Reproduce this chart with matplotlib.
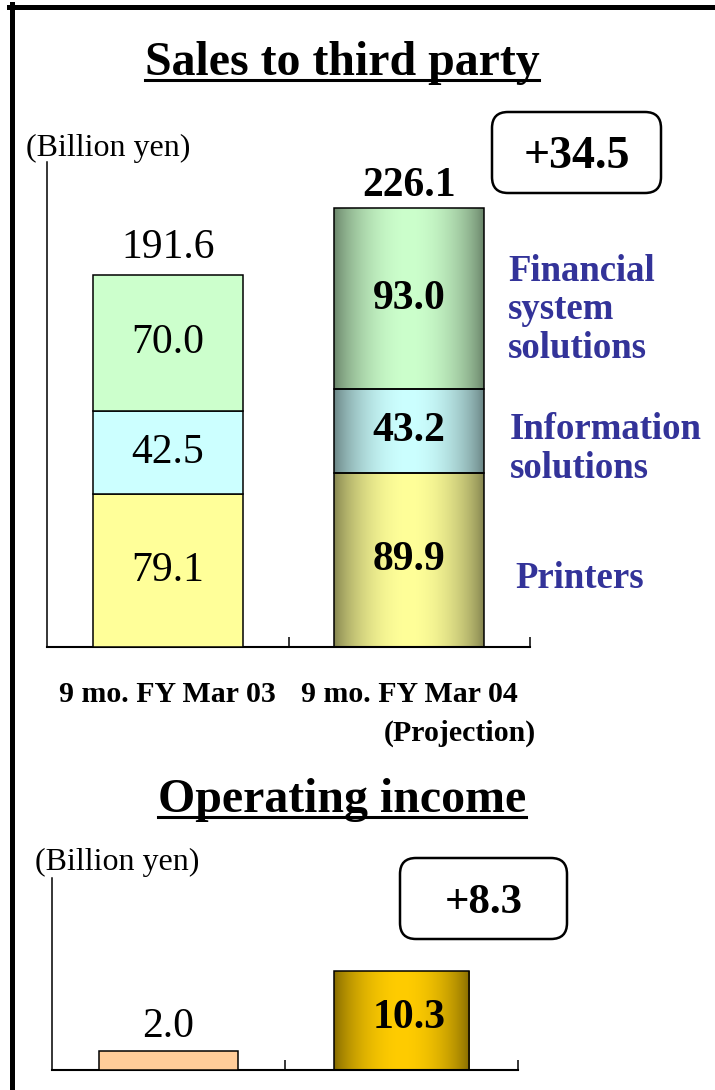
import matplotlib.pyplot as plt
import matplotlib.colors as mcolors
import numpy as np
from matplotlib.patches import FancyBboxPatch
from matplotlib.lines import Line2D
from matplotlib.transforms import IdentityTransform

plt.rcParams['font.family'] = ['Liberation Serif', 'DejaVu Serif']

W, H = 715, 1090

periods = ["9 mo. FY Mar 03", "9 mo. FY Mar 04"]
period_note = "(Projection)"
segments = ["Printers", "Information\nsolutions", "Financial\nsystem\nsolutions"]
sales_fy03 = [79.1, 42.5, 70.0]
sales_fy04 = [89.9, 43.2, 93.0]
seg_colors = ["#FFFF99", "#CCFFFF", "#CCFFCC"]
op_income = [2.0, 10.3]
op_colors = ["#FFCC99", "#FFCC00"]
unit = "(Billion yen)"


def fpos(x, y):
    # pixel position measured from top-left -> figure fraction
    return x / W, 1 - y / H


def shade(ax, patch, color):
    # horizontal dark-light-dark gradient clipped to the bar
    light = np.array(mcolors.to_rgb(color))
    t = np.linspace(0, 1, 256)
    g = np.sin(np.pi * t) ** 0.7
    rgb = 0.5 * light + 0.5 * light * g[:, None]
    x0, y0 = patch.get_x(), patch.get_y()
    im = ax.imshow(rgb[None, :, :], aspect='auto', interpolation='bilinear', zorder=2,
                   extent=[x0, x0 + patch.get_width(), y0, y0 + patch.get_height()])
    im.set_clip_path(patch)
    patch.set_facecolor('none')
    patch.set_zorder(3)


def style_axes(ax):
    for s in ['top', 'right']:
        ax.spines[s].set_visible(False)
    ax.spines['left'].set_linewidth(1.1)
    ax.spines['bottom'].set_linewidth(1.5)
    ax.set_yticks([])
    ax.set_xticks([0.5, 1.5])
    ax.set_xticklabels([])
    ax.tick_params(axis='x', direction='in', length=7, width=1.1)
    ax.set_xlim(-0.5, 1.5)


def change_box(x0, y0, x1, y1, text, size):
    box = FancyBboxPatch((x0, H - y1), x1 - x0, y1 - y0, transform=IdentityTransform(),
                         boxstyle="round,pad=0,rounding_size=16", fc='white', ec='black', lw=1.8)
    fig.add_artist(box)
    fig.text(*fpos((x0 + x1) / 2, (y0 + y1) / 2), text, ha='center', va='center_baseline',
             fontsize=size, fontweight='bold')


def title(text, y_base):
    t = fig.text(*fpos(342, y_base), text, ha='center', va='baseline', fontsize=34.5, fontweight='bold')
    fig.canvas.draw()
    bb = t.get_window_extent(renderer=fig.canvas.get_renderer())
    fig.add_artist(Line2D([bb.x0, bb.x1], [H - y_base - 5, H - y_base - 5],
                          transform=IdentityTransform(), color='black', lw=2.2))


fig = plt.figure(figsize=(W / 100, H / 100), dpi=100)

# page border (top and left edges)
fig.add_artist(Line2D([9, W], [H - 6.5, H - 6.5], transform=IdentityTransform(), color='black', lw=3.6))
fig.add_artist(Line2D([11.5, 11.5], [0, H - 4], transform=IdentityTransform(), color='black', lw=3.6))

# ---------------- Sales to third party ----------------
title("Sales to third party", 75)
fig.text(*fpos(26, 148), unit, ha='left', va='center', fontsize=23)

ax1 = fig.add_axes([47 / W, 1 - 647 / H, 483 / W, 485 / H])
x = np.arange(len(periods))
bottoms = np.zeros(2)
for i in range(len(segments)):
    vals = np.array([sales_fy03[i], sales_fy04[i]])
    bars = ax1.bar(x, vals, 0.62, bottom=bottoms, color=seg_colors[i], edgecolor='black',
                   linewidth=1.1, zorder=3)
    shade(ax1, bars[1], seg_colors[i])
    ax1.text(0, bottoms[0] + vals[0] / 2, f"{vals[0]:.1f}", ha='center', va='center', fontsize=30, zorder=4)
    ax1.text(1, bottoms[1] + vals[1] / 2, f"{vals[1]:.1f}", ha='center', va='center', fontsize=30,
             fontweight='bold', zorder=4)
    bottoms += vals

ax1.annotate(f"{bottoms[0]:.1f}", (0, bottoms[0]), xytext=(0, 17), textcoords='offset pixels',
             ha='center', va='baseline', fontsize=30)
ax1.annotate(f"{bottoms[1]:.1f}", (1, bottoms[1]), xytext=(0, 12), textcoords='offset pixels',
             ha='center', va='baseline', fontsize=30, fontweight='bold')
ax1.set_ylim(0, 250)
style_axes(ax1)

for i, p in enumerate(periods):
    ax1.annotate(p, xy=(i, 0), xycoords=('data', 'axes fraction'), xytext=(0, -48),
                 textcoords='offset pixels', ha='center', va='center', fontsize=21.5, fontweight='bold')
ax1.annotate(period_note, xy=(1, 0), xycoords=('data', 'axes fraction'), xytext=(51, -86),
             textcoords='offset pixels', ha='center', va='center', fontsize=21.5, fontweight='bold')

# baseline of the last line of each label
seg_label_pos = [(515, 588), (510, 478), (508, 358)]
for lab, (lx, ly) in zip(segments, seg_label_pos):
    fig.text(*fpos(lx, ly), lab, ha='left', va='baseline', fontsize=26.5, fontweight='bold',
             color='#333399', linespacing=1.13)

change_box(492, 112, 661, 193, f"+{bottoms[1] - bottoms[0]:.1f}", 33)

# ---------------- Operating income ----------------
title("Operating income", 812)
fig.text(*fpos(35, 862), unit, ha='left', va='center', fontsize=23)

ax2 = fig.add_axes([52 / W, 1 - 1070 / H, 466 / W, 192 / H])
bars = ax2.bar(x, op_income, [0.6, 0.58], color=op_colors, edgecolor='black', linewidth=1.1, zorder=3)
shade(ax2, bars[1], op_colors[1])
ax2.annotate(f"{op_income[0]:.1f}", (0, op_income[0]), xytext=(0, 14), textcoords='offset pixels',
             ha='center', va='baseline', fontsize=30)
ax2.annotate(f"{op_income[1]:.1f}", (1, op_income[1] / 2), xytext=(8, 3), textcoords='offset pixels',
             ha='center', va='center', fontsize=30, fontweight='bold', zorder=4)
ax2.set_ylim(0, 20)
style_axes(ax2)

change_box(400, 858, 567, 939, f"+{op_income[1] - op_income[0]:.1f}", 31)

fig.savefig("out.png", dpi=100)
